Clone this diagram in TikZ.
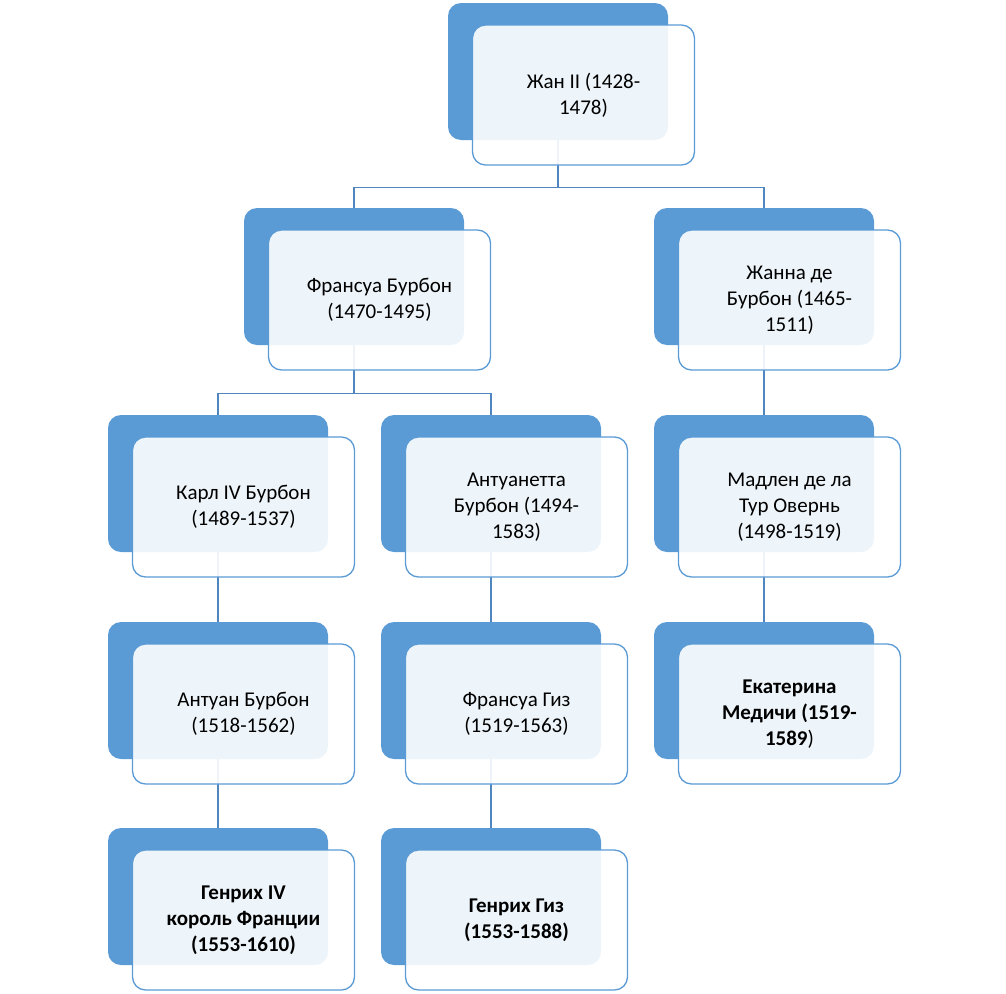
\documentclass[tikz,border=0pt]{standalone}
\usepackage{fontspec}
\setmainfont{Carlito}
\definecolor{bl}{HTML}{5B9BD5}
\definecolor{cl}{HTML}{4F86C0}
\begin{document}
\begin{tikzpicture}[x=1pt,y=-1pt,
  back/.style={fill=bl,rounded corners=13pt,minimum width=220pt,minimum height=137pt,inner sep=0pt},
  front/.style={draw=bl,line width=1.3pt,fill=white,fill opacity=0.9,text opacity=1,rounded corners=13pt,
    minimum width=222pt,minimum height=140pt,inner sep=0pt,
    font=\fontsize{21}{26}\selectfont,align=center,text=black},
  conn/.style={draw=cl,line width=1.4pt}]
\useasboundingbox (0,0) rectangle (1006,993);
\foreach \n/\x/\y in {J/448/3,F/244/208,Ja/654/208,K/108/415,A/381/415,M/654/415,An/108/622,FG/381/622,E/654/622,G/108/828,GG/381/828}{
  \node[back] (\n b) at (\x+110,\y+68.5) {};
  \coordinate (\n f) at (\x+135.5,\y+92);
}
\draw[conn] (Jb.south) -- ++(0,47) -| (Fb.north);
\draw[conn] (Jb.south) -- ++(0,47) -| (Jab.north);
\draw[conn] (Fb.south) -- ++(0,48) -| (Kb.north);
\draw[conn] (Fb.south) -- ++(0,48) -| (Ab.north);
\draw[conn] (Jab.south) -- (Mb.north);
\draw[conn] (Kb.south) -- (Anb.north);
\draw[conn] (Ab.south) -- (FGb.north);
\draw[conn] (Mb.south) -- (Eb.north);
\draw[conn] (Anb.south) -- (Gb.north);
\draw[conn] (FGb.south) -- (GGb.north);
\node[front] (J) at (Jf) {Жан II (1428-\\1478)};
\node[front] (F) at (Ff) {Франсуа Бурбон\\(1470-1495)};
\node[front] (Ja) at (Jaf) {Жанна де\\Бурбон (1465-\\1511)};
\node[front] (K) at (Kf) {Карл IV Бурбон\\(1489-1537)};
\node[front] (A) at (Af) {Антуанетта\\Бурбон (1494-\\1583)};
\node[front] (M) at (Mf) {Мадлен де ла\\Тур Овернь\\(1498-1519)};
\node[front] (An) at (Anf) {Антуан Бурбон\\(1518-1562)};
\node[front] (FG) at (FGf) {Франсуа Гиз\\(1519-1563)};
\node[front] (E) at (Ef) {\textbf{Екатерина}\\\textbf{Медичи (1519-}\\\textbf{1589})};
\node[front] (G) at (Gf) {\textbf{Генрих IV}\\\textbf{король Франции}\\\textbf{(1553-1610)}};
\node[front] (GG) at (GGf) {\textbf{Генрих Гиз}\\\textbf{(1553-1588)}};
\end{tikzpicture}
\end{document}
